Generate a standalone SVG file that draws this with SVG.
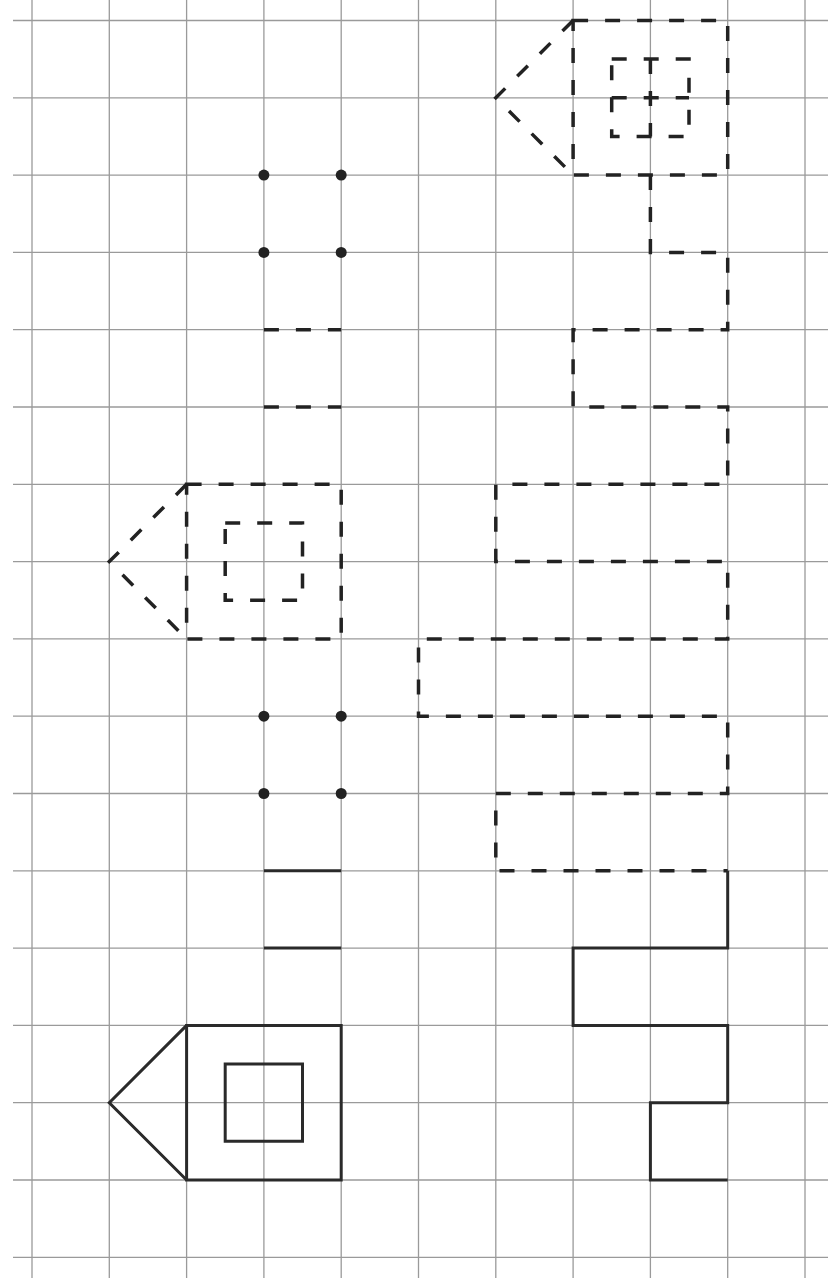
<svg xmlns="http://www.w3.org/2000/svg" width="831" height="1281" viewBox="0 0 831 1281">
<style>
.grid line{stroke:#9a9a9a;stroke-width:1.3}
.d{fill:none;stroke:#222;stroke-width:3.5;stroke-dasharray:15 17;stroke-linejoin:miter}
.s{fill:none;stroke:#2a2a2a;stroke-width:3;stroke-linejoin:miter}
.dot{fill:#222}
</style>
<rect width="831" height="1281" fill="#fff"/>
<g class="grid" id="grid">
<line x1="32" y1="0" x2="32" y2="1278"/>
<line x1="109.3" y1="0" x2="109.3" y2="1278"/>
<line x1="186.6" y1="0" x2="186.6" y2="1278"/>
<line x1="263.9" y1="0" x2="263.9" y2="1278"/>
<line x1="341.2" y1="0" x2="341.2" y2="1278"/>
<line x1="418.5" y1="0" x2="418.5" y2="1278"/>
<line x1="495.8" y1="0" x2="495.8" y2="1278"/>
<line x1="573.1" y1="0" x2="573.1" y2="1278"/>
<line x1="650.4" y1="0" x2="650.4" y2="1278"/>
<line x1="727.7" y1="0" x2="727.7" y2="1278"/>
<line x1="805" y1="0" x2="805" y2="1278"/>
<line x1="13" y1="20.5" x2="828" y2="20.5"/>
<line x1="13" y1="97.8" x2="828" y2="97.8"/>
<line x1="13" y1="175.1" x2="828" y2="175.1"/>
<line x1="13" y1="252.4" x2="828" y2="252.4"/>
<line x1="13" y1="329.7" x2="828" y2="329.7"/>
<line x1="13" y1="407" x2="828" y2="407"/>
<line x1="13" y1="484.3" x2="828" y2="484.3"/>
<line x1="13" y1="561.6" x2="828" y2="561.6"/>
<line x1="13" y1="638.9" x2="828" y2="638.9"/>
<line x1="13" y1="716.2" x2="828" y2="716.2"/>
<line x1="13" y1="793.5" x2="828" y2="793.5"/>
<line x1="13" y1="870.8" x2="828" y2="870.8"/>
<line x1="13" y1="948.1" x2="828" y2="948.1"/>
<line x1="13" y1="1025.4" x2="828" y2="1025.4"/>
<line x1="13" y1="1102.7" x2="828" y2="1102.7"/>
<line x1="13" y1="1180" x2="828" y2="1180"/>
<line x1="13" y1="1257.3" x2="828" y2="1257.3"/>
</g>
<g id="dots-top">
<circle class="dot" cx="263.9" cy="175.1" r="5.5"/>
<circle class="dot" cx="341.2" cy="175.1" r="5.5"/>
<circle class="dot" cx="263.9" cy="252.4" r="5.5"/>
<circle class="dot" cx="341.2" cy="252.4" r="5.5"/>
</g>
<g id="dashes-left">
<line class="d" x1="263.9" y1="329.7" x2="341.2" y2="329.7"/>
<line class="d" x1="263.9" y1="407" x2="341.2" y2="407"/>
</g>
<g id="house-dashed-left">
<path class="d" d="M186.6 484.3 L109.3 561.6 L186.6 638.9"/>
<path class="d" d="M186.6 484.3 H341.2 V638.9 H186.6 Z"/>
<path class="d" d="M225.2 522.9 H302.5 V600.2 H225.2 Z"/>
</g>
<g id="dots-mid">
<circle class="dot" cx="263.9" cy="716.2" r="5.5"/>
<circle class="dot" cx="341.2" cy="716.2" r="5.5"/>
<circle class="dot" cx="263.9" cy="793.5" r="5.5"/>
<circle class="dot" cx="341.2" cy="793.5" r="5.5"/>
</g>
<g id="lines-left">
<line class="s" x1="263.9" y1="870.8" x2="341.2" y2="870.8"/>
<line class="s" x1="263.9" y1="948.1" x2="341.2" y2="948.1"/>
</g>
<g id="house-solid">
<path class="s" d="M186.6 1025.4 L109.3 1102.7 L186.6 1180"/>
<path class="s" d="M186.6 1025.4 H341.2 V1180 H186.6 Z"/>
<path class="s" d="M225.2 1064 H302.5 V1141.3 H225.2 Z"/>
</g>
<g id="house-dashed-right">
<path class="d" d="M573.1 20.5 L495.8 97.8 L573.1 175.1"/>
<path class="d" d="M573.1 20.5 H727.7 V175.1 H573.1 Z"/>
<path class="d" d="M611.7 59.1 H689 V136.4 H611.7 Z"/>
<line class="d" x1="650.4" y1="59.1" x2="650.4" y2="136.4"/>
<line class="d" x1="611.7" y1="97.8" x2="689" y2="97.8"/>
</g>
<g id="connectors">
<path class="d" d="M650.4 175.1 V252.4 H727.7 V329.7 H573.1 V407 H727.7 V484.3 H495.8 V561.6 H727.7 V638.9 H418.5 V716.2 H727.7 V793.5 H495.8 V870.8 H727.7"/>
<path class="s" d="M727.7 870.8 V948.1 H573.1 V1025.4 H727.7 V1102.7 H650.4 V1180 H727.7"/>
</g>
</svg>
